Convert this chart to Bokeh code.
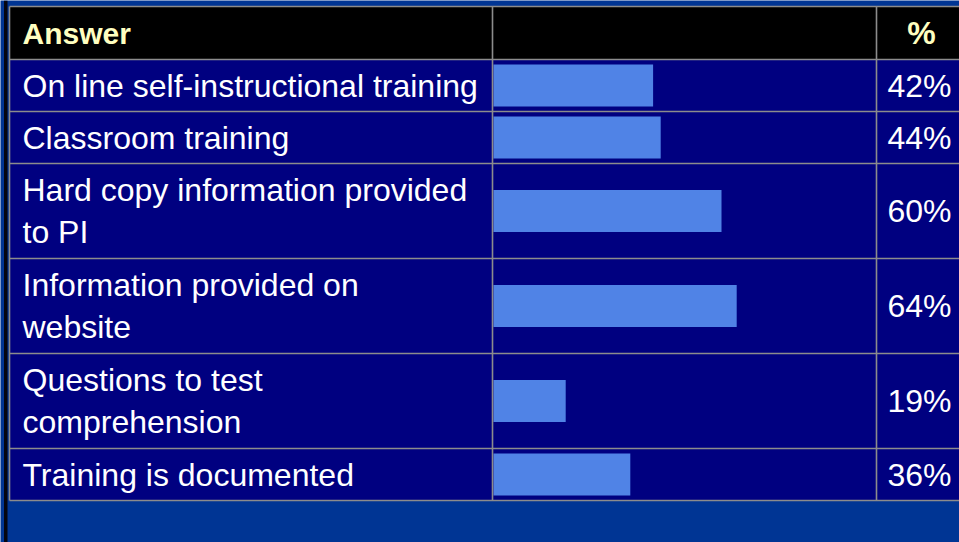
from bokeh.plotting import figure
from bokeh.models import Range1d, ColumnDataSource
from bokeh.core.properties import value
from bokeh.embed import file_html
from bokeh.resources import INLINE

# ---------------- data ----------------
answers = [
    "On line self-instructional training",
    "Classroom training",
    "Hard copy information provided to PI",
    "Information provided on website",
    "Questions to test comprehension",
    "Training is documented",
]
answer_labels = [
    "On line self-instructional training",
    "Classroom training",
    "Hard copy information provided\nto PI",
    "Information provided on\nwebsite",
    "Questions to test\ncomprehension",
    "Training is documented",
]
percents = [42, 44, 60, 64, 19, 36]
header_answer = "Answer"
header_pct = "%"

# ---------------- layout (page pixels) ----------------
W, H = 959, 542
TABLE_L, COL1, COL2, TABLE_R = 9, 492, 876, 975
TOP, HEADER_H = 6, 53
ROW_H = {1: 52, 2: 95}
BAR_ORIGIN, PX_PER_PCT, BAR_H = 493, 3.8, 42

n_lines = [lab.count("\n") + 1 for lab in answer_labels]
bounds = [TOP, TOP + HEADER_H]
for n in n_lines:
    bounds.append(bounds[-1] + ROW_H[n])
row_top = bounds[1:-1]
row_bot = bounds[2:]
centers = [(a + b) / 2 for a, b in zip(row_top, row_bot)]
header_c = TOP + HEADER_H / 2

p = figure(width=W, height=H,
           x_range=Range1d(0, W), y_range=Range1d(H, 0),
           output_backend="svg", toolbar_location=None,
           x_axis_location=None, y_axis_location=None,
           min_border=0, outline_line_color=None,
           background_fill_color="#003594", border_fill_color="#003594")
p.grid.visible = False
p.extra_x_ranges = {"pct": Range1d((0 - BAR_ORIGIN) / PX_PER_PCT,
                                   (W - BAR_ORIGIN) / PX_PER_PCT)}

# dark left edge strip
p.quad(left=[3.5], right=[7], top=[0], bottom=[H], fill_color="#050510", line_color=None)

# header and body backgrounds
p.quad(left=[TABLE_L], right=[TABLE_R], top=[TOP], bottom=[TOP + HEADER_H],
       fill_color="black", line_color=None)
p.quad(left=[TABLE_L], right=[TABLE_R], top=[TOP + HEADER_H], bottom=[bounds[-1]],
       fill_color="#000080", line_color=None)

# bars
src = ColumnDataSource(dict(y=centers, pct=percents, label=answer_labels,
                            ptxt=[f"{v}%" for v in percents]))
p.hbar(y="y", left=0, right="pct", height=BAR_H, source=src,
       x_range_name="pct", fill_color="#5083E6", line_color=None)

# grid lines
hx = [[TABLE_L, TABLE_R] for _ in bounds]
hy = [[b, b] for b in bounds]
p.multi_line(xs=hx, ys=hy, line_color="#8c8c8c", line_width=1.6)
vx = [[x, x] for x in (TABLE_L, COL1, COL2)]
vy = [[TOP, bounds[-1]] for _ in range(3)]
p.multi_line(xs=vx, ys=vy, line_color="#8c8c8c", line_width=1.6)

# texts
p.text(x=22, y="y", text="label", source=src,
       text_font=value("Liberation Sans"), text_font_size="32px",
       text_color="white", text_baseline="middle", text_align="left",
       text_line_height=1.17)
p.text(x=951, y="y", text="ptxt", source=src,
       text_font=value("Liberation Sans"), text_font_size="32px",
       text_color="white", text_baseline="middle", text_align="right")
p.text(x=[22], y=[header_c], text=[header_answer],
       text_font=value("Liberation Sans"), text_font_size="30px",
       text_font_style="bold", text_color="#FFFFC0",
       text_baseline="middle", text_align="left")
p.text(x=[921], y=[header_c], text=[header_pct],
       text_font=value("Liberation Sans"), text_font_size="32px",
       text_font_style="bold", text_color="#FFFFC0",
       text_baseline="middle", text_align="center")

open("out.html", "w").write(file_html(p, INLINE))
